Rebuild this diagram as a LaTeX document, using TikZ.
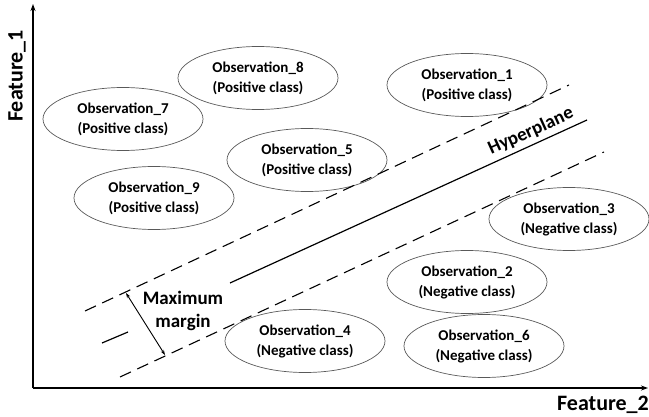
\documentclass[tikz,border=0pt]{standalone}
\usepackage{fontspec}
\setmainfont{Carlito}
\usetikzlibrary{arrows.meta,shapes.geometric}
\begin{document}
\begin{tikzpicture}[x=1pt,y=-1pt,
  obs/.style={ellipse,draw=black!65,line width=0.7pt,minimum width=160pt,minimum height=63pt,inner sep=0pt,align=center,font=\bfseries\fontsize{15}{20}\selectfont},
  axisline/.style={line width=1.3pt,-{Stealth[length=7pt,width=5pt]}},
  marginline/.style={line width=1.1pt,dash pattern=on 12pt off 7pt},
  hyper/.style={line width=1.2pt},
  bigtext/.style={font=\bfseries\fontsize{22}{26}\selectfont},
  midtext/.style={font=\bfseries\fontsize{19}{23}\selectfont}
]
\useasboundingbox (0,0) rectangle (649,417);
% axes
\coordinate (O) at (33,388);
\coordinate (ytip) at (33,4);
\coordinate (xtip) at (648,388);
\draw[axisline] (O) -- (ytip);
\draw[axisline] (O) -- (xtip);
\node[bigtext,rotate=90] (f1) at (17,76) {Feature\_1};
\node[bigtext] (f2) at (603,405) {Feature\_2};
% observations
\node[obs] (o8) at (258,78) {Observation\_8\\(Positive class)};
\node[obs] (o1) at (467,85) {Observation\_1\\(Positive class)};
\node[obs] (o7) at (123,119) {Observation\_7\\(Positive class)};
\node[obs] (o5) at (307,160) {Observation\_5\\(Positive class)};
\node[obs] (o9) at (154,198) {Observation\_9\\(Positive class)};
\node[obs] (o3) at (569,219) {Observation\_3\\(Negative class)};
\node[obs] (o2) at (467,282) {Observation\_2\\(Negative class)};
\node[obs] (o4) at (305,341) {Observation\_4\\(Negative class)};
\node[obs] (o6) at (484,346) {Observation\_6\\(Negative class)};
% margin lines
\coordinate (u1) at (85,311);
\coordinate (u2) at (569,85);
\coordinate (l1) at (120,377);
\coordinate (l2) at (604,152);
\coordinate (h1) at (230,283);
\coordinate (h2) at (587,120);
\coordinate (s1) at (102,343);
\coordinate (s2) at (128,332);
\draw[marginline] (u1) -- (u2);
\draw[marginline] (l1) -- (l2);
\draw[hyper] (h1) -- (h2);
\draw[hyper] (s1) -- (s2);
\node[midtext,rotate=24.5,anchor=base,inner sep=0pt] (hp) at (533,136) {Hyperplane};
% maximum margin
\coordinate (m1) at (126,293);
\coordinate (m2) at (165,355);
\draw[line width=0.9pt,{Stealth[length=5pt,width=3.5pt]}-{Stealth[length=5pt,width=3.5pt]}] (m1) -- (m2);
\node[midtext,align=center] (mm) at (183,311) {Maximum\\margin};
\end{tikzpicture}
\end{document}
